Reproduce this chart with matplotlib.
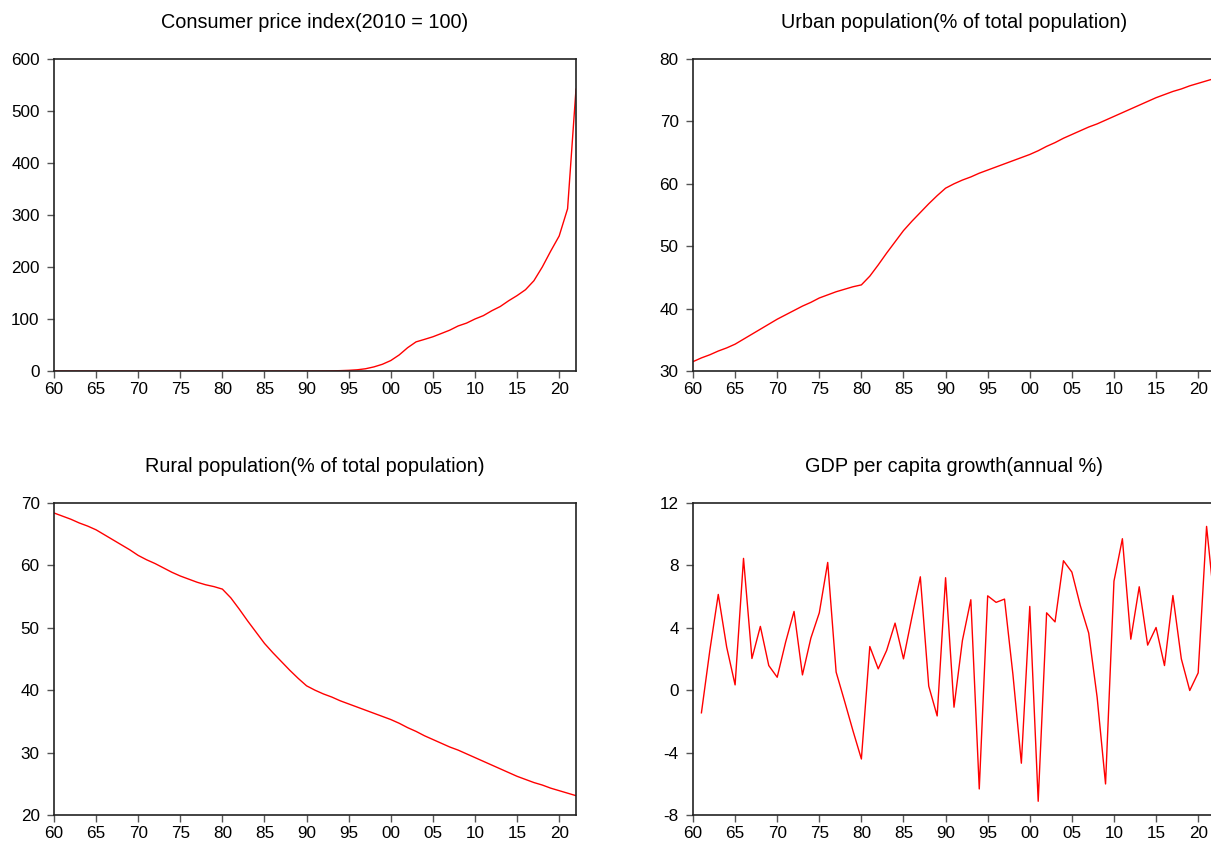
import numpy as np
import matplotlib
matplotlib.use('Agg')
import matplotlib.pyplot as plt


# Data
years = list(range(1960, 2023))

cpi = [0.0002, 0.0002, 0.0002, 0.0002, 0.0002, 0.0003, 0.0003, 0.0003, 0.0003, 0.0003,
       0.0004, 0.0004, 0.0005, 0.0006, 0.0007, 0.0008, 0.0010, 0.0012, 0.0005, 0.0008,
       0.0016, 0.0022, 0.0029, 0.0038, 0.0057, 0.0083, 0.0112, 0.0155, 0.027, 0.044,
       0.070, 0.117, 0.20, 0.33, 0.68, 1.28, 2.3, 4.3, 7.9, 12.9,
       20.1, 30.9, 44.8, 56.0, 60.8, 65.8, 72.1, 78.5, 86.6, 92.1,
       100.0, 106.5, 115.9, 124.0, 135.1, 145.0, 156.3, 173.6, 200.1, 230.7,
       259.6, 312.0, 542.0]

urban = [31.5, 32.1, 32.6, 33.2, 33.7, 34.3, 35.1, 35.9, 36.7, 37.5,
         38.3, 39.0, 39.7, 40.4, 41.0, 41.7, 42.2, 42.7, 43.1, 43.5,
         43.8, 45.2, 47.0, 48.9, 50.7, 52.5, 54.0, 55.4, 56.8, 58.1,
         59.3, 60.0, 60.6, 61.1, 61.7, 62.2, 62.7, 63.2, 63.7, 64.2,
         64.7, 65.3, 66.0, 66.6, 67.3, 67.9, 68.5, 69.1, 69.6, 70.2,
         70.8, 71.4, 72.0, 72.6, 73.2, 73.8, 74.3, 74.8, 75.2, 75.7,
         76.1, 76.5, 76.9]

rural = [68.4, 67.9, 67.4, 66.8, 66.3, 65.7, 64.9, 64.1, 63.3, 62.5,
         61.6, 60.9, 60.3, 59.6, 58.9, 58.3, 57.8, 57.3, 56.9, 56.6,
         56.2, 54.8, 53.0, 51.1, 49.3, 47.5, 46.0, 44.6, 43.2, 41.9,
         40.7, 40.0, 39.4, 38.9, 38.3, 37.8, 37.3, 36.8, 36.3, 35.8,
         35.3, 34.7, 34.0, 33.4, 32.7, 32.1, 31.5, 30.9, 30.4, 29.8,
         29.2, 28.6, 28.0, 27.4, 26.8, 26.2, 25.7, 25.2, 24.8, 24.3,
         23.9, 23.5, 23.1]

gdp_years = list(range(1961, 2023))
gdp_growth = [-1.45, 2.55, 6.14, 2.76, 0.34, 8.45, 2.03, 4.09, 1.58,
              0.83, 3.08, 5.05, 0.98, 3.34, 4.96, 8.19, 1.16, -0.7, -2.6,
              -4.41, 2.8, 1.37, 2.55, 4.3, 2.01, 4.68, 7.27, 0.26, -1.65,
              7.21, -1.09, 3.19, 5.8, -6.33, 6.05, 5.63, 5.84, 1.0, -4.68,
              5.37, -7.12, 4.96, 4.38, 8.3, 7.57, 5.43, 3.66, -0.45, -6.01,
              6.99, 9.71, 3.27, 6.63, 2.89, 4.02, 1.58, 6.07, 2.01, -0.02,
              1.11, 10.5, 5.2]

xticks = list(range(1960, 2021, 5))
xticklabels = ['%02d' % (y % 100) for y in xticks]

panels = [
    ('Consumer price index(2010 = 100)', years, cpi, (0, 600), 100),
    ('Urban population(% of total population)', years, urban, (30, 80), 10),
    ('Rural population(% of total population)', years, rural, (20, 70), 10),
    ('GDP per capita growth(annual %)', gdp_years, gdp_growth, (-8, 12), 4),
]

plt.rcParams['font.family'] = ['Liberation Sans', 'DejaVu Sans']
plt.rcParams['axes.unicode_minus'] = False

fig = plt.figure(figsize=(12.11, 8.48), dpi=100)

# axes boxes in pixels (the right column runs past the image edge)
W, H = 1211, 848
boxes = [
    (54, 59), (693, 59),
    (54, 503), (693, 503),
]
aw, ah = 522, 312

for (title, x, y, ylim, ystep), (left, top) in zip(panels, boxes):
    ax = fig.add_axes([left / W, 1 - (top + ah) / H, aw / W, ah / H])
    ax.plot(x, y, color='red', lw=1.0)
    ax.set_xlim(1960, 2022)
    ax.set_ylim(*ylim)
    ax.set_xticks(xticks)
    ax.set_xticklabels(xticklabels)
    ax.set_yticks(np.arange(ylim[0], ylim[1] + 1, ystep))
    ax.tick_params(direction='out', length=4.8, width=1, color='#555555',
                   labelsize=12.3)
    ax.tick_params(axis='x', pad=3)
    ax.tick_params(axis='y', pad=5.5)
    for s in ax.spines.values():
        s.set_linewidth(1.2)
        s.set_color('#222222')
    ax.set_title(title, fontsize=14.3, pad=22)

fig.savefig('out.png', dpi=100)
